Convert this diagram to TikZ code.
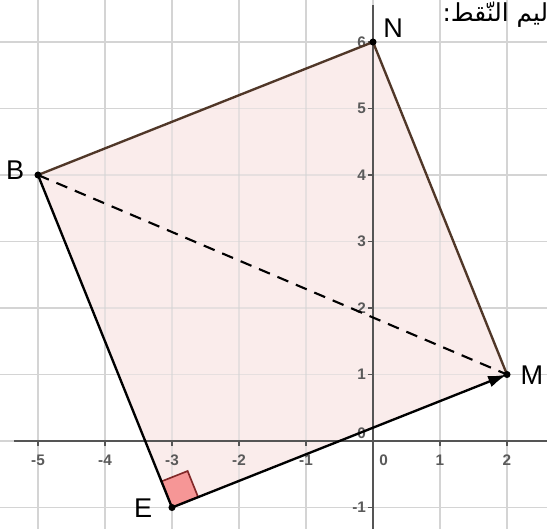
\documentclass[tikz,border=0pt]{standalone}
\usepackage{fontspec}
\setmainfont{Liberation Sans}
\newfontfamily\arabicfont[Script=Arabic]{DejaVu Sans}
\TeXXeTstate=1
\usetikzlibrary{arrows.meta,calc}
\definecolor{gridc}{RGB}{212,212,212}
\definecolor{axisc}{RGB}{85,85,85}
\definecolor{fillc}{RGB}{250,236,235}
\definecolor{edgec}{RGB}{80,55,40}
\definecolor{anglefill}{RGB}{246,150,150}
\definecolor{anglec}{RGB}{130,40,40}
\definecolor{tickc}{RGB}{90,90,90}
\tikzset{
  gridline/.style={gridc, line width=0.6pt},
  axisline/.style={axisc, line width=0.8pt},
  ticklab/.style={font=\fontsize{6.5}{7}\selectfont\bfseries, text=tickc, inner sep=0.5pt},
  ptlabel/.style={font=\fontsize{11.5}{12}\selectfont, text=black, inner sep=0pt},
  side/.style={line width=1pt},
  pt/.style={circle, fill=black, inner sep=0pt, minimum size=3pt}
}
\begin{document}
\begin{tikzpicture}[x=1cm, y=0.9925cm]
\useasboundingbox[fill=white] (-5.567,-1.323) rectangle (2.597,6.632);
% grid
\foreach \i in {-5,...,2} \draw[gridline] (\i,-1.323) -- (\i,6.632);
\foreach \j in {-1,...,6} \draw[gridline] (-5.567,\j) -- (2.597,\j);
% points
\coordinate (N) at (0,6);
\coordinate (B) at (-5,4);
\coordinate (M) at (2,1);
\coordinate (E) at (-3,-1);
\coordinate (R1) at ($(E)!0.42cm!(B)$);
\coordinate (R3) at ($(E)!0.42cm!(M)$);
\coordinate (R2) at ($(R1)+(R3)-(E)$);
% fill
\fill[fillc] (N) -- (B) -- (E) -- (M) -- cycle;
% redraw grid faintly over fill
\begin{scope}
\clip (N) -- (B) -- (E) -- (M) -- cycle;
\foreach \i in {-5,...,2} \draw[gridline, opacity=0.5] (\i,-1.323) -- (\i,6.632);
\foreach \j in {-1,...,6} \draw[gridline, opacity=0.5] (-5.567,\j) -- (2.597,\j);
\end{scope}
% axes
\draw[axisline] (-5.36,0) -- (2.597,0);
\draw[axisline] (0,-1.323) -- (0,6.55);
\foreach \i in {-5,...,2} \draw[axisline, line width=0.5pt] (\i,0) -- (\i,-0.08);
\foreach \j in {-1,1,2,3,4,5,6} \draw[axisline, line width=0.5pt] (0,\j) -- (-0.08,\j);
\foreach \i in {-5,-4,-3,-2,-1,1,2} \node[ticklab] (tx\i) at (\i,-0.29) {\i};
\node[ticklab] (tx0) at (0.16,-0.29) {0};
\foreach \j in {-1,1,2,3,4,5,6} \node[ticklab, anchor=east] (ty\j) at (-0.08,\j) {\j};
\node[ticklab, anchor=east] (ty0) at (-0.08,0.12) {0};
% right angle marker at E
\filldraw[fill=anglefill, draw=anglec, line width=0.7pt] (E) -- (R1) -- (R2) -- (R3) -- cycle;
% sides
\draw[side, edgec] (B) -- (N);
\draw[side, edgec] (N) -- (M);
\draw[side, black] (B) -- (E);
\draw[side, black, -{Latex[length=8pt, width=5pt]}] (E) -- (M);
\draw[line width=0.9pt, dash pattern=on 5pt off 3.5pt] (B) -- (M);
% point dots
\node[pt] (pN) at (N) {};
\node[pt] (pB) at (B) {};
\node[pt] (pM) at (M) {};
\node[pt] (pE) at (E) {};
% labels
\node[ptlabel] (lN) at (0.30,6.21) {N};
\node[ptlabel] (lB) at (-5.34,4.08) {B};
\node[ptlabel] (lM) at (2.37,0.99) {M};
\node[ptlabel] (lE) at (-3.43,-1.01) {E};
% arabic
\node[anchor=east, inner sep=0pt, font=\arabicfont\fontsize{10.5}{12}\selectfont] (ar) at (2.62,6.41) {\beginR ليم النّقط:\endR};
\end{tikzpicture}
\end{document}
